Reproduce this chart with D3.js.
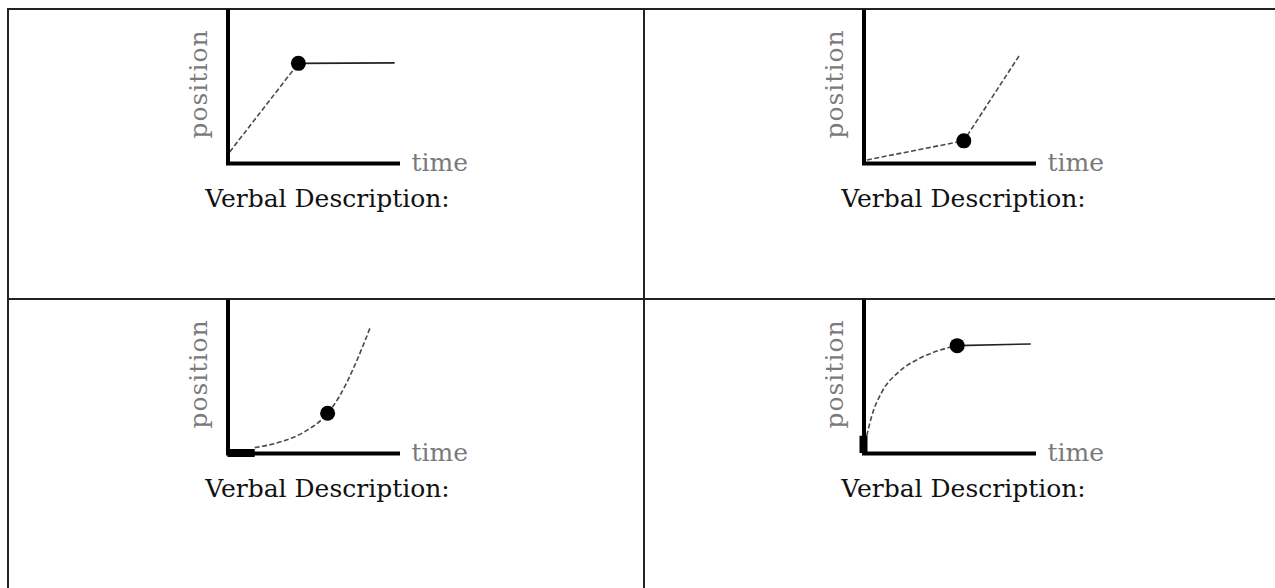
<!DOCTYPE html>
<html>
<head>
<meta charset="utf-8">
<script src="https://cdn.jsdelivr.net/npm/d3@7"></script>
<style>
  body { margin: 0; background: #fff; }
  .label { font-family: "DejaVu Serif", serif; font-size: 25px; fill: #7a7a7a; }
  .verbal { font-family: "DejaVu Serif", serif; font-size: 25px; fill: #111; }
</style>
</head>
<body>
<script>

// top left: steady motion, then at rest
var dashedA = [[0.13, 0.72], [4.17, 6.47]];
var solidA = [[4.17, 6.47], [9.83, 6.5]];
var dotA = [4.17, 6.47];

// top right: slow, then fast
var dashedB = [[0.2, 0.2], [5.9, 1.44], [9.23, 7.09]];
var solidB = [];
var dotB = [5.9, 1.44];

// bottom left: speeding up
var thickC = [[0, 0], [1.6, 0]];
var dashedC = [[1.6, 0.35], [3.17, 0.74], [4.53, 1.38], [5.89, 2.58], [6.58, 3.67], [7.46, 5.63], [8.43, 8.25]];
var dotC = [5.89, 2.58];

// bottom right: slowing down, then at rest
var thickD = [[0, 0], [0, 1.12]];
var dashedD = [[0.19, 1.12], [0.49, 2.42], [1.07, 3.94], [2.05, 5.24], [3.22, 6.1], [4.39, 6.64], [5.51, 6.97]];
var solidD = [[5.51, 6.97], [9.84, 7.08]];
var dotD = [5.51, 6.97];

var xLabel = "time";
var yLabel = "position";
var caption = "Verbal Description:";

var svgWidth = 1275;
var svgHeight = 588;

var svg = d3.select("body")
  .append("svg")
  .attr("width", svgWidth)
  .attr("height", svgHeight);

// table grid
var colX = [8, 644];
var rowY = [9, 299];

var grid = svg.append("g")
  .attr("stroke", "#222")
  .attr("stroke-width", 2);

rowY.forEach(function(y) {
  grid.append("line").attr("x1", colX[0] - 1).attr("x2", svgWidth).attr("y1", y).attr("y2", y);
});
colX.forEach(function(x) {
  grid.append("line").attr("x1", x).attr("x2", x).attr("y1", rowY[0]).attr("y2", svgHeight);
});

var panels = [
  {col: 0, row: 0, thick: [], dashed: dashedA, solid: solidA, dot: dotA},
  {col: 1, row: 0, thick: [], dashed: dashedB, solid: solidB, dot: dotB},
  {col: 0, row: 1, thick: thickC, dashed: dashedC, solid: [], dot: dotC},
  {col: 1, row: 1, thick: thickD, dashed: dashedD, solid: solidD, dot: dotD}
];

panels.forEach(function(p) {
  var left = colX[p.col];
  var top = rowY[p.row];
  var x0 = left + 219.5;
  var y0 = top + 154;

  var xScale = d3.scaleLinear().domain([0, 10]).range([x0, x0 + 170]);
  var yScale = d3.scaleLinear().domain([0, 10]).range([y0, top]);

  var g = svg.append("g");

  // curves first, axes drawn over them
  var smooth = d3.line()
    .x(function(d) { return xScale(d[0]); })
    .y(function(d) { return yScale(d[1]); })
    .curve(p.dashed.length > 3 ? d3.curveMonotoneX : d3.curveLinear);

  var straight = d3.line()
    .x(function(d) { return xScale(d[0]); })
    .y(function(d) { return yScale(d[1]); });

  g.append("path")
    .attr("d", smooth(p.dashed))
    .attr("fill", "none")
    .attr("stroke", "#4a4a4a")
    .attr("stroke-width", 1.6)
    .attr("stroke-dasharray", "5 2.5");

  if (p.solid.length) {
    g.append("path")
      .attr("d", straight(p.solid))
      .attr("fill", "none")
      .attr("stroke", "#222")
      .attr("stroke-width", 1.6);
  }

  // axes
  var bottomAxis = d3.axisBottom(xScale).tickValues([]).tickSizeOuter(0);
  var leftAxis = d3.axisLeft(yScale).tickValues([]).tickSizeOuter(0);

  g.append("g")
    .attr("transform", `translate(0, ${y0})`)
    .call(bottomAxis)
    .select(".domain")
    .attr("stroke", "#000")
    .attr("stroke-width", 4)
    .attr("stroke-linecap", "square");

  g.append("g")
    .attr("transform", `translate(${x0}, 0)`)
    .call(leftAxis)
    .select(".domain")
    .attr("stroke", "#000")
    .attr("stroke-width", 4);

  if (p.thick.length) {
    g.append("path")
      .attr("d", straight(p.thick))
      .attr("fill", "none")
      .attr("stroke", "#000")
      .attr("stroke-width", 8);
  }

  g.append("circle")
    .attr("cx", xScale(p.dot[0]))
    .attr("cy", yScale(p.dot[1]))
    .attr("r", 7.5)
    .attr("fill", "#000");

  g.append("text")
    .attr("class", "label")
    .attr("transform", `translate(${x0 - 21}, ${top + 75}) rotate(-90)`)
    .attr("text-anchor", "middle")
    .attr("letter-spacing", 1)
    .text(yLabel);

  g.append("text")
    .attr("class", "label")
    .attr("x", x0 + 184)
    .attr("y", y0 + 8)
    .text(xLabel);

  g.append("text")
    .attr("class", "verbal")
    .attr("x", x0 + 100)
    .attr("y", top + 198)
    .attr("text-anchor", "middle")
    .text(caption);
});
</script>
</body>
</html>
